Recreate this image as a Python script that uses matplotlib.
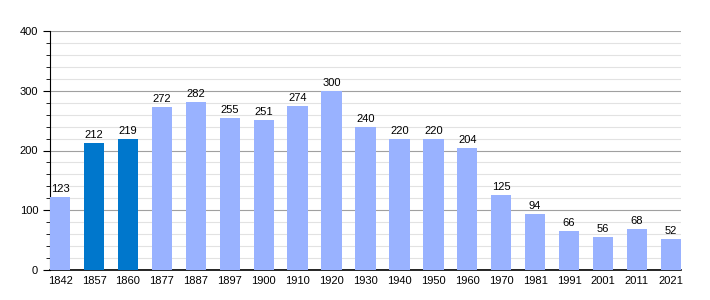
import matplotlib
matplotlib.use("Agg")
import matplotlib.pyplot as plt
from matplotlib.ticker import MultipleLocator

years = ["1842", "1857", "1860", "1877", "1887", "1897", "1900", "1910", "1920",
         "1930", "1940", "1950", "1960", "1970", "1981", "1991", "2001", "2011", "2021"]
values = [123, 212, 219, 272, 282, 255, 251, 274, 300, 240, 220, 220, 204, 125,
          94, 66, 56, 68, 52]
highlight = ["1857", "1860"]

plt.rcParams['font.family'] = ['Liberation Sans', 'DejaVu Sans']
fig = plt.figure(figsize=(7.1, 3.0), dpi=100)
ax = fig.add_axes([50/710, 30/300, 631/710, 239/300])

light = "#99b2ff"
dark = "#0077cc"
w = 0.6
x = list(range(len(years)))
colors = [dark if y in highlight else light for y in years]
ax.bar(x, values, width=w, color=colors, zorder=3)
for xi, v in zip(x, values):
    ax.text(xi, v + 5, str(v), ha='center', va='bottom', fontsize=8, zorder=4)

ax.set_xlim(-w/2, len(years) - 1 + w/2)
ax.set_ylim(0, 400)
ax.set_xticks(x)
ax.set_xticklabels(years, fontsize=8)
ax.tick_params(axis='x', length=0, pad=4)
ax.yaxis.set_major_locator(MultipleLocator(100))
ax.yaxis.set_minor_locator(MultipleLocator(20))
ax.tick_params(axis='y', which='major', length=5, labelsize=8, pad=3.5)
ax.tick_params(axis='y', which='minor', length=3)
ax.grid(axis='y', which='major', color='#a0a0a0', linewidth=0.8, zorder=0)
ax.grid(axis='y', which='minor', color='#e2e2e2', linewidth=0.8, zorder=0)
for s in ['top', 'right']:
    ax.spines[s].set_visible(False)
ax.spines['left'].set_color('black')
ax.spines['bottom'].set_color('black')
ax.spines['bottom'].set_linewidth(1.2)
ax.set_axisbelow(True)

fig.savefig("out.png", dpi=100)
